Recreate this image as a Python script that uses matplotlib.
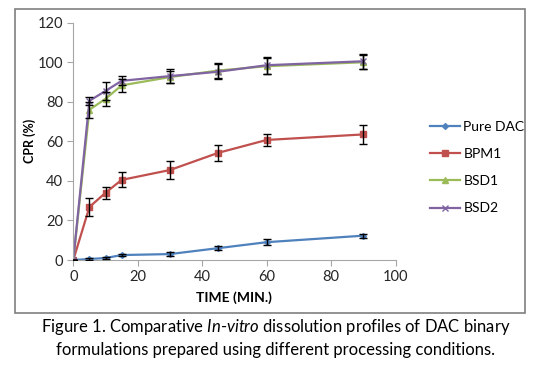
import matplotlib.pyplot as plt
from matplotlib.patches import Rectangle

plt.rcParams['font.family'] = ['Lato', 'DejaVu Sans']
plt.rcParams['mathtext.fontset'] = 'custom'
plt.rcParams['mathtext.rm'] = 'Lato'
plt.rcParams['mathtext.it'] = 'Lato:italic'

time_min = [0, 5, 10, 15, 30, 45, 60, 90]

pure_dac = [0, 0.5, 1, 2.5, 3, 6, 9, 12.3]
pure_dac_err = [0, 0.3, 0.4, 0.6, 1, 1, 1.5, 1]

bpm1 = [0, 26.8, 34, 40.5, 45.5, 54.2, 60.7, 63.5]
bpm1_err = [0, 4.4, 3, 3.8, 4.7, 4.2, 2.8, 4.8]

bsd1 = [0, 76, 81.5, 88.3, 92.5, 95.8, 98, 100]
bsd1_err = [0, 4, 3.5, 3.3, 3.2, 4, 4, 3.5]

bsd2 = [0, 80.5, 85.5, 90.6, 93, 95.2, 98.5, 100.5]
bsd2_err = [0, 2, 4.5, 2.3, 3.5, 3.8, 4.2, 3.8]

series = [
    ("Pure DAC", pure_dac, pure_dac_err, "#4F81BD", "D", 3),
    ("BPM1", bpm1, bpm1_err, "#C0504D", "s", 3.8),
    ("BSD1", bsd1, bsd1_err, "#9BBB59", "^", 3.8),
    ("BSD2", bsd2, bsd2_err, "#8064A2", "x", 3.8),
]

fig = plt.figure(figsize=(5.52, 3.67), dpi=100)
fig.patches.append(Rectangle((15 / 552, 1 - 312.7 / 367), 510 / 552, 303.4 / 367,
                             transform=fig.transFigure, fill=False,
                             edgecolor="#7f7f7f", linewidth=1.2))

ax = fig.add_axes([73.3 / 552, 1 - 260 / 367, 322.2 / 552, 237.3 / 367])

for name, y, err, col, mk, ms in series:
    ax.errorbar(time_min, y, yerr=err, fmt="none", ecolor="black",
                elinewidth=1, capsize=3.2, capthick=1, zorder=3)
    ax.plot(time_min, y, color=col, marker=mk, markersize=ms, linewidth=1.6,
            markeredgewidth=1, label=name, zorder=2)

ax.set_xlim(0, 100)
ax.set_ylim(0, 120)
ax.set_xticks(range(0, 101, 20))
ax.set_yticks(range(0, 121, 20))
for s in ["top", "right"]:
    ax.spines[s].set_visible(False)
for s in ["left", "bottom"]:
    ax.spines[s].set_color("#a6a6a6")
ax.tick_params(direction="out", length=4, color="#a6a6a6", labelsize=10.5,
               labelcolor="#262626")
ax.set_xlabel("TIME (MIN.)", fontsize=10, fontweight="bold", labelpad=5)
ax.set_ylabel("CPR (%)", fontsize=9, fontweight="bold", labelpad=1)

ax.legend(loc="center left", bbox_to_anchor=(1.107, 0.39), frameon=False,
          fontsize=10, handlelength=2.16, labelspacing=1.1, handletextpad=0.25,
          borderaxespad=0, borderpad=0)

fig.text(0.5, 1 - 327 / 367,
         "Figure 1. Comparative $\\it{In}$-$\\it{vitro}$ dissolution profiles of DAC binary",
         ha="center", va="center", fontsize=12)
fig.text(0.5, 1 - 350 / 367,
         "formulations prepared using different processing conditions.",
         ha="center", va="center", fontsize=12)

fig.savefig("out.png", dpi=100)
